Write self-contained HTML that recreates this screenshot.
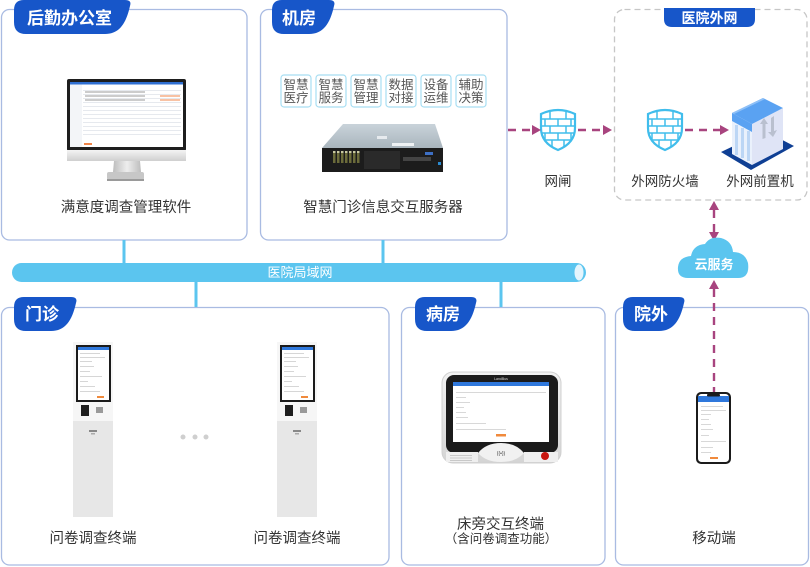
<!DOCTYPE html>
<html><head><meta charset="utf-8"><style>
html,body{margin:0;padding:0;background:#fff;}
svg{display:block;}
text{font-family:"Liberation Sans","Noto Sans CJK SC",sans-serif;}
</style></head><body>
<svg width="810" height="567" viewBox="0 0 810 567" xmlns="http://www.w3.org/2000/svg">
<defs>
  <linearGradient id="chin" x1="0" y1="0" x2="0" y2="1"><stop offset="0" stop-color="#f4f4f4"/><stop offset="1" stop-color="#cfcfcf"/></linearGradient>
  <linearGradient id="neck" x1="0" y1="0" x2="1" y2="0"><stop offset="0" stop-color="#bdbdbd"/><stop offset="0.5" stop-color="#eeeeee"/><stop offset="1" stop-color="#bdbdbd"/></linearGradient>
  <linearGradient id="srvtop" x1="0" y1="0" x2="0" y2="1"><stop offset="0" stop-color="#c9d3da"/><stop offset="1" stop-color="#a9b5bd"/></linearGradient>
  <linearGradient id="silver" x1="0" y1="0" x2="0" y2="1"><stop offset="0" stop-color="#f2f2f2"/><stop offset="1" stop-color="#d4d4d4"/></linearGradient>
  <clipPath id="sh1"><path d="M541,114 Q558,106 575,114 L575,128 Q575,143 558,150 Q541,143 541,128 Z"/></clipPath>
  <clipPath id="sh2"><path d="M648,114 Q665,106 682,114 L682,128 Q682,143 665,150 Q648,143 648,128 Z"/></clipPath>
</defs>

<!-- Panels -->
<g fill="#fff" stroke="#a9bbe2" stroke-width="1.3">
  <rect x="1.5" y="9.5" width="245.5" height="230.5" rx="8"/>
  <rect x="260.5" y="9.5" width="246.5" height="230.5" rx="8"/>
  <rect x="1.5" y="307.5" width="387.5" height="257.5" rx="8"/>
  <rect x="401.5" y="307.5" width="203.5" height="257.5" rx="8"/>
  <rect x="615.5" y="307.5" width="193" height="257.5" rx="8"/>
</g>

<!-- Tabs -->
<g fill="#1756c9">
  <path d="M14,10 Q14,0 24,0 L125,0 Q132,0 130,6 C126,24 119,34 105,34 L26,34 Q14,34 14,22 Z"/>
  <path d="M272,10 Q272,0 282,0 L329,0 Q336,0 334,6 C330,24 323,34 309,34 L284,34 Q272,34 272,22 Z"/>
  <path d="M14,307 Q14,297 24,297 L71,297 Q78,297 76,303 C72,321 65,331 51,331 L26,331 Q14,331 14,319 Z"/>
  <path d="M415,307 Q415,297 425,297 L471,297 Q478,297 476,303 C472,321 465,331 451,331 L427,331 Q415,331 415,319 Z"/>
  <path d="M623,307 Q623,297 633,297 L679,297 Q686,297 684,303 C680,321 673,331 659,331 L635,331 Q623,331 623,319 Z"/>
</g>
<g fill="#fff" font-size="17" font-weight="bold">
  <text x="27" y="24">后勤办公室</text>
  <text x="282" y="24">机房</text>
  <text x="25" y="320">门诊</text>
  <text x="426" y="320">病房</text>
  <text x="634" y="320">院外</text>
</g>

<!-- Connectors to LAN -->
<g stroke="#5bc5ef" stroke-width="3">
  <line x1="124" y1="240" x2="124" y2="264"/>
  <line x1="383" y1="240" x2="383" y2="264"/>
  <line x1="196" y1="281" x2="196" y2="307"/>
  <line x1="501" y1="281" x2="501" y2="307"/>
</g>
<!-- LAN bus -->
<rect x="12" y="263" width="574" height="19" rx="9.5" fill="#5bc5ef"/>
<ellipse cx="579" cy="272.5" rx="5" ry="8.5" fill="#e4f5fd" stroke="#5bc5ef" stroke-width="1"/>
<text x="300" y="277" font-size="13" fill="#fff" text-anchor="middle">医院局域网</text>

<!-- Monitor -->
<rect x="67" y="79" width="119" height="72" rx="2" fill="#1e1e1e"/>
<rect x="70" y="82" width="113" height="65" fill="#fff"/>
<rect x="70" y="82" width="113" height="2.5" fill="#2f6fd1"/>
<rect x="70" y="84.5" width="12" height="62.5" fill="#f3f5f8"/>
<g fill="#e6e9ee">
  <rect x="83" y="90" width="98" height="1"/>
  <rect x="83" y="94" width="98" height="1"/>
  <rect x="83" y="98" width="98" height="1"/>
  <rect x="83" y="102" width="98" height="1"/>
  <rect x="83" y="106" width="98" height="1"/>
  <rect x="83" y="110" width="98" height="1"/>
  <rect x="83" y="114" width="98" height="1"/>
  <rect x="83" y="118" width="98" height="1"/>
  <rect x="83" y="122" width="98" height="1"/>
  <rect x="83" y="126" width="98" height="1"/>
  <rect x="83" y="130" width="98" height="1"/>
  <rect x="83" y="134" width="98" height="1"/>
</g>
<g fill="#999"><rect x="85" y="91.5" width="60" height="1"/><rect x="85" y="95.5" width="60" height="1"/><rect x="85" y="99.5" width="60" height="1"/></g>
<g fill="#f0864a"><rect x="160" y="95.5" width="20" height="1"/><rect x="160" y="99.5" width="20" height="1"/><rect x="84" y="143" width="8" height="2"/></g>
<rect x="67" y="150" width="119" height="11" fill="url(#chin)"/>
<polygon points="114,161 140,161 141,172 113,172" fill="url(#neck)"/>
<rect x="107" y="172" width="37" height="8" rx="2" fill="#c7c7c7"/>
<rect x="107" y="179" width="37" height="2" fill="#9a9a9a"/>
<text x="126" y="212" font-size="14.5" fill="#333" text-anchor="middle">满意度调查管理软件</text>

<!-- Server feature boxes -->
<g fill="#fff" stroke="#a8def2" stroke-width="1.2">
  <rect x="281" y="75" width="30" height="32" rx="3"/>
  <rect x="316" y="75" width="30" height="32" rx="3"/>
  <rect x="351" y="75" width="30" height="32" rx="3"/>
  <rect x="386" y="75" width="30" height="32" rx="3"/>
  <rect x="421" y="75" width="30" height="32" rx="3"/>
  <rect x="456" y="75" width="30" height="32" rx="3"/>
</g>
<g font-size="12.5" fill="#555" text-anchor="middle">
  <text x="296" y="89">智慧</text><text x="296" y="102">医疗</text>
  <text x="331" y="89">智慧</text><text x="331" y="102">服务</text>
  <text x="366" y="89">智慧</text><text x="366" y="102">管理</text>
  <text x="401" y="89">数据</text><text x="401" y="102">对接</text>
  <text x="436" y="89">设备</text><text x="436" y="102">运维</text>
  <text x="471" y="89">辅助</text><text x="471" y="102">决策</text>
</g>

<!-- Server -->
<polygon points="343,124 435,124 443,148 322,148" fill="url(#srvtop)"/>
<rect x="377" y="136" width="10" height="3" fill="#e6eaee"/>
<rect x="392" y="143" width="22" height="3" fill="#eef1f3"/>
<rect x="322" y="148" width="121" height="24" fill="#1c1c1c"/>
<g fill="#6b6b3a">
  <rect x="333" y="151" width="2.5" height="12"/><rect x="337" y="151" width="2.5" height="12"/><rect x="341" y="151" width="2.5" height="12"/><rect x="345" y="151" width="2.5" height="12"/>
  <rect x="349" y="151" width="2.5" height="12"/><rect x="353" y="151" width="2.5" height="12"/><rect x="357" y="151" width="2.5" height="12"/>
</g>
<g fill="#c9c9a0">
  <rect x="333" y="151" width="2.5" height="2"/><rect x="337" y="151" width="2.5" height="2"/><rect x="341" y="151" width="2.5" height="2"/><rect x="345" y="151" width="2.5" height="2"/>
  <rect x="349" y="151" width="2.5" height="2"/><rect x="353" y="151" width="2.5" height="2"/><rect x="357" y="151" width="2.5" height="2"/>
</g>
<rect x="364" y="151" width="36" height="18" fill="#2a2a2a"/>
<rect x="403" y="157" width="28" height="4" fill="#444"/>
<rect x="425" y="152" width="8" height="3" fill="#3d6fc4"/>
<rect x="438" y="162" width="3" height="3" fill="#2b8bd0"/>
<text x="383" y="212" font-size="14.5" fill="#333" text-anchor="middle">智慧门诊信息交互服务器</text>

<!-- Hospital external network box -->
<rect x="614.5" y="9.5" width="192.5" height="190.5" rx="10" fill="none" stroke="#c6c6c6" stroke-width="1.3" stroke-dasharray="6 4"/>
<path d="M664,8 L755,8 L755,19 Q755,27 747,27 L672,27 Q664,27 664,19 Z" fill="#1756c9"/>
<text x="709.5" y="23" font-size="14" font-weight="bold" fill="#fff" text-anchor="middle">医院外网</text>

<!-- Shields -->
<g>
  <path d="M541,114 Q558,106 575,114 L575,128 Q575,143 558,150 Q541,143 541,128 Z" fill="#fff"/>
  <g clip-path="url(#sh1)" stroke="#40bdec" stroke-width="1.5" fill="none">
    <line x1="540" y1="119" x2="576" y2="119"/><line x1="540" y1="126" x2="576" y2="126"/>
    <line x1="540" y1="133" x2="576" y2="133"/><line x1="540" y1="140" x2="576" y2="140"/>
    <line x1="550" y1="112" x2="550" y2="119"/><line x1="566" y1="112" x2="566" y2="119"/>
    <line x1="545" y1="119" x2="545" y2="126"/><line x1="558" y1="119" x2="558" y2="126"/><line x1="571" y1="119" x2="571" y2="126"/>
    <line x1="550" y1="126" x2="550" y2="133"/><line x1="566" y1="126" x2="566" y2="133"/>
    <line x1="545" y1="133" x2="545" y2="140"/><line x1="558" y1="133" x2="558" y2="140"/><line x1="571" y1="133" x2="571" y2="140"/>
    <line x1="552" y1="140" x2="552" y2="150"/><line x1="564" y1="140" x2="564" y2="150"/>
  </g>
  <path d="M541,114 Q558,106 575,114 L575,128 Q575,143 558,150 Q541,143 541,128 Z" fill="none" stroke="#40bdec" stroke-width="2.2"/>
</g>
<g>
  <path d="M648,114 Q665,106 682,114 L682,128 Q682,143 665,150 Q648,143 648,128 Z" fill="#fff"/>
  <g clip-path="url(#sh2)" stroke="#40bdec" stroke-width="1.5" fill="none">
    <line x1="647" y1="119" x2="683" y2="119"/><line x1="647" y1="126" x2="683" y2="126"/>
    <line x1="647" y1="133" x2="683" y2="133"/><line x1="647" y1="140" x2="683" y2="140"/>
    <line x1="657" y1="112" x2="657" y2="119"/><line x1="673" y1="112" x2="673" y2="119"/>
    <line x1="652" y1="119" x2="652" y2="126"/><line x1="665" y1="119" x2="665" y2="126"/><line x1="678" y1="119" x2="678" y2="126"/>
    <line x1="657" y1="126" x2="657" y2="133"/><line x1="673" y1="126" x2="673" y2="133"/>
    <line x1="652" y1="133" x2="652" y2="140"/><line x1="665" y1="133" x2="665" y2="140"/><line x1="678" y1="133" x2="678" y2="140"/>
    <line x1="659" y1="140" x2="659" y2="150"/><line x1="671" y1="140" x2="671" y2="150"/>
  </g>
  <path d="M648,114 Q665,106 682,114 L682,128 Q682,143 665,150 Q648,143 648,128 Z" fill="none" stroke="#40bdec" stroke-width="2.2"/>
</g>

<!-- Building (front-end server) -->
<polygon points="721,152 751,170 794,146 765,131" fill="#0f3f94"/>
<polygon points="732,113 752,124 752,165 732,154" fill="#eaf1fc"/>
<polygon points="732,113 752,124 752,132 732,121" fill="#5aa2f2"/>
<g fill="#bcd6f5"><rect x="735" y="125" width="3" height="30"/><rect x="741" y="128" width="3" height="30"/><rect x="747" y="131" width="3" height="30"/></g>
<polygon points="752,124 783,108 783,149 752,165" fill="#dfe4f6"/>
<polygon points="732,113 763,98 783,108 752,124" fill="#5aa2f2"/>
<polygon points="732,113 763,98 765,99 734,114" fill="#8ec0f7"/>
<g fill="#b9c0cf">
  <polygon points="760,124 764,118 768,124 765.5,124 765.5,138 762.5,139 762.5,124"/>
  <polygon points="771,118 774,116 774,131 777,130 773,137 768,132 771,132"/>
</g>

<!-- Labels right -->
<g font-size="13.5" fill="#333" text-anchor="middle">
  <text x="558" y="186">网闸</text>
  <text x="665" y="186">外网防火墙</text>
  <text x="760" y="186">外网前置机</text>
</g>

<!-- Magenta dashed arrows -->
<g stroke="#a8447f" stroke-width="2.4" stroke-dasharray="8 6" fill="none">
  <line x1="508" y1="130" x2="533" y2="130"/>
  <line x1="578" y1="130" x2="604" y2="130"/>
  <line x1="685" y1="130" x2="720" y2="130"/>
  <line x1="714" y1="210" x2="714" y2="232"/>
  <line x1="714" y1="289" x2="714" y2="392"/>
</g>
<g fill="#a8447f">
  <polygon points="532,125 541,130 532,135"/>
  <polygon points="603,125 612,130 603,135"/>
  <polygon points="720,125 729,130 720,135"/>
  <polygon points="709,210 714,201 719,210"/>
  <polygon points="709,232 714,241 719,232"/>
  <polygon points="709,289 714,280 719,289"/>
</g>

<!-- Cloud -->
<path d="M688,278 Q677,278 678,267 Q679,257 691,256 Q693,245 705,244 Q710,236 721,238 Q732,241 733,252 Q745,252 748,263 Q750,278 738,278 Z" fill="#5bc5ef"/>
<text x="714" y="269" font-size="13" font-weight="bold" fill="#fff" text-anchor="middle">云服务</text>

<!-- Kiosks -->
<g id="k1">
  <rect x="73" y="342" width="40" height="80" fill="#f6f6f6"/>
  <rect x="73" y="421" width="40" height="96" fill="#e7e7e7"/>
  <rect x="76" y="345" width="35" height="57" fill="#1b1b1b"/>
  <rect x="78" y="347" width="31" height="53" fill="#fff"/>
  <rect x="78" y="347" width="31" height="3" fill="#2f78dc"/>
  <g fill="#ccc"><rect x="80" y="353" width="20" height="0.8"/><rect x="80" y="357" width="25" height="0.8"/><rect x="80" y="361" width="12" height="0.8"/><rect x="80" y="366" width="14" height="0.8"/><rect x="80" y="371" width="10" height="0.8"/><rect x="80" y="376" width="22" height="0.8"/><rect x="80" y="381" width="8" height="0.8"/><rect x="80" y="386" width="15" height="0.8"/><rect x="80" y="391" width="20" height="0.8"/></g>
  <rect x="97" y="396" width="7" height="2" fill="#f08a3c"/>
  <rect x="81" y="405" width="8" height="11" fill="#1e1e1e"/>
  <rect x="96" y="407" width="7" height="6" fill="#9a9a9a"/>
  <rect x="89" y="430" width="8" height="2" fill="#888"/>
  <rect x="91" y="433" width="4" height="1.5" fill="#aaa"/>
</g>
<use href="#k1" x="204" y="0"/>
<g fill="#cfcfcf">
  <circle cx="183" cy="437" r="2.5"/><circle cx="195" cy="437" r="2.5"/><circle cx="206" cy="437" r="2.5"/>
</g>
<g font-size="14.5" fill="#333" text-anchor="middle">
  <text x="93" y="543">问卷调查终端</text>
  <text x="297" y="543">问卷调查终端</text>
</g>

<!-- Bedside terminal -->
<rect x="442" y="372" width="119" height="91" rx="11" fill="url(#silver)" stroke="#d0d0d0" stroke-width="1"/>
<rect x="446" y="375" width="112" height="78" rx="8" fill="#1b1b1b"/>
<path d="M478,453 Q486,443 501,443 Q516,443 524,453 Q516,462 501,462 Q486,462 478,453 Z" fill="#f1f1f1"/>
<rect x="446" y="452" width="32" height="10" fill="#efefef"/>
<rect x="524" y="452" width="34" height="10" fill="#efefef"/>
<rect x="453" y="382" width="96" height="60" fill="#fff"/>
<rect x="453" y="382" width="96" height="4" fill="#2f78dc"/>
<g fill="#cfcfcf"><rect x="456" y="392" width="90" height="0.8"/><rect x="456" y="397" width="10" height="0.8"/><rect x="456" y="402" width="14" height="0.8"/><rect x="456" y="407" width="8" height="0.8"/><rect x="456" y="412" width="10" height="0.8"/><rect x="456" y="417" width="12" height="0.8"/><rect x="456" y="423" width="30" height="0.8"/><rect x="456" y="429" width="50" height="0.8"/></g>
<rect x="496" y="434" width="10" height="2.5" fill="#f08a3c"/>
<text x="501" y="380" font-size="3.5" fill="#ddd" text-anchor="middle">LandBus</text>
<g fill="#c8c8c8"><rect x="450" y="455" width="22" height="1"/><rect x="450" y="457.5" width="22" height="1"/><rect x="450" y="460" width="22" height="1"/></g>
<text x="501" y="455" font-size="5" fill="#333" text-anchor="middle">((•))</text>
<circle cx="545" cy="456" r="4" fill="#c8160f"/>
<text x="457" y="529" font-size="14.5" fill="#333">床旁交互终端</text>
<text x="501" y="543" font-size="12.5" fill="#333" text-anchor="middle">（含问卷调查功能）</text>

<!-- Phone -->
<rect x="696" y="392" width="35" height="72" rx="5" fill="#1b1b1b"/>
<rect x="698" y="394" width="31" height="68" rx="3.5" fill="#fff"/>
<rect x="698" y="396" width="31" height="6" fill="#2f78dc"/>
<rect x="707" y="394" width="13" height="2.5" rx="1" fill="#1b1b1b"/>
<g fill="#cfcfcf"><rect x="701" y="406" width="22" height="0.8"/><rect x="701" y="410" width="25" height="0.8"/><rect x="701" y="414" width="10" height="0.8"/><rect x="701" y="419" width="8" height="0.8"/><rect x="701" y="424" width="10" height="0.8"/><rect x="701" y="429" width="12" height="0.8"/><rect x="701" y="435" width="8" height="0.8"/><rect x="701" y="441" width="25" height="0.8"/><rect x="701" y="447" width="12" height="0.8"/><rect x="701" y="452" width="10" height="0.8"/></g>
<rect x="710" y="457" width="8" height="2" fill="#f08a3c"/>
<text x="714" y="543" font-size="14.5" fill="#333" text-anchor="middle">移动端</text>
</svg>
</body></html>
